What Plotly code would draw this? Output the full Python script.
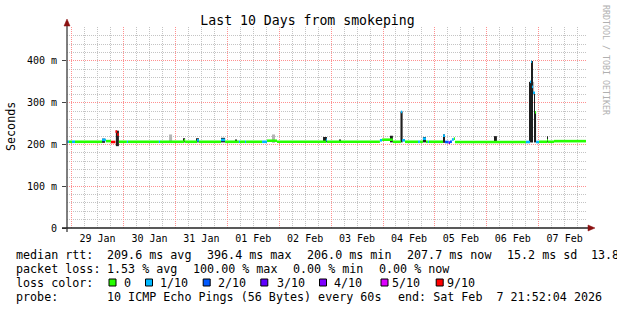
import plotly.graph_objects as go
from datetime import datetime, timedelta

W, H = 617, 310
L, R, T, B = 67, 31, 27, 82
PW, PH = W - L - R, H - T - B
MONO = "DejaVu Sans Mono"

start = datetime(2026, 1, 28, 21, 52, 4)
end = start + timedelta(days=10)
Y_MAX = 481.4

# ---------------- data ----------------
# median rtt segments: start hour (since graph start), median ms, loss (x/10)
seg_h = [0.0, 0.9, 2.3, 3.7, 16.2, 18.0, 20.3, 22.4, 23.2, 24.0, 27.7, 28.2, 42.5, 43.0,
         54.1, 54.6, 60.1, 61.0, 71.2, 73.1, 79.5, 80.0, 82.3, 82.8, 90.2, 92.5, 97.1,
         119.8, 120.2, 144.7, 145.7, 150.7, 154.4, 155.0, 156.3, 162.3, 163.2, 164.6,
         166.0, 166.9, 167.4, 173.9, 174.8, 176.5, 177.1, 178.0, 178.9, 179.4, 212.2,
         214.1, 214.6, 215.0, 215.5, 216.4, 216.9, 218.3, 222.0, 222.4, 225.2]
seg_ms = [206.5, 206.5, 206.5, 206.5, 211.0, 208.0, 206.0, 231.0, 224.0, 206.5, 206.5, 206.5, 206.5, 206.5,
          210.0, 206.5, 210.0, 206.5, 211.0, 206.5, 206.5, 206.5, 206.5, 206.5, 206.5, 209.0, 206.5,
          211.0, 206.5, 210.0, 211.5, 206.5, 278.0, 210.0, 206.5, 206.5, 206.5, 214.0,
          206.5, 206.5, 206.5, 221.0, 206.0, 204.5, 206.5, 212.0, 214.0, 206.0, 206.0,
          350.0, 398.0, 338.0, 324.0, 277.0, 206.0, 206.5, 210.0, 206.5, 208.0]
seg_loss = [1, 0, 1, 0, 1, 0, 9, 9, 9, 0, 1, 0, 1, 0,
            0, 0, 1, 0, 1, 0, 1, 0, 1, 0, 1, 0, 0,
            1, 0, 1, 0, 0, 1, 1, 0, 1, 0, 1,
            0, 1, 0, 1, 2, 3, 2, 1, 0, 0, 1,
            1, 1, 1, 1, 0, 1, 0, 0, 0, 0]
END_H = 240.0

# dense (dark) smoke: hour from, hour to, low ms, high ms
dark_h0 = [16.2, 22.6, 54.1, 60.1, 71.2, 77.7, 118.4, 125.8, 149.8, 154.2, 164.6, 173.9,
           197.9, 214.1, 214.6, 216.0, 216.4, 222.0]
dark_h1 = [17.6, 24.0, 54.6, 61.0, 73.1, 78.6, 120.2, 126.7, 150.7, 155.2, 166.0, 174.8,
           198.8, 214.6, 215.3, 216.4, 216.9, 222.4]
dark_lo = [204, 196, 205, 205, 205, 205, 205, 205, 205, 205, 205, 204,
           204, 205, 205, 275, 205, 205]
dark_hi = [214, 233, 215, 215, 216, 212, 218, 212, 221, 279, 218, 224,
           220, 350, 400, 325, 278, 220]
# sparse (light) smoke
light_h0 = [47.2, 94.8, 215.0]
light_h1 = [48.6, 96.2, 216.0]
light_lo = [204, 204, 318]
light_hi = [224, 224, 350]

loss_levels = [0, 1, 2, 3, 4, 5, 9]
loss_labels = ["0", "1/10", "2/10", "3/10", "4/10", "5/10", "9/10"]
loss_colors = ["#26ff00", "#00b8ff", "#0059ff", "#5e00ff", "#7e00ff", "#dd00ff", "#ff0000"]

y_tickvals = [0, 100, 200, 300, 400]
y_ticktext = ["0", "100 m", "200 m", "300 m", "400 m"]

title_text = "Last 10 Days from smokeping"
stats1 = ["median rtt:", "209.6 ms avg", "396.4 ms max", "206.0 ms min", "207.7 ms now", "15.2 ms sd", "13.8 am/s"]
stats2 = ["packet loss:", "1.53 % avg", "100.00 % max", "0.00 % min", "0.00 % now"]
probe = ["probe:", "10 ICMP Echo Pings (56 Bytes) every 60s", "end: Sat Feb\u00a0\u00a07 21:52:04 2026"]

# ---------------- layout helpers ----------------
def px(x):
    return (x - L) / PW

def py(y):
    return (H - B - y) / PH

def t(h):
    return start + timedelta(hours=h)

fig = go.Figure()

def smoke(h0s, h1s, los, his, color):
    fig.add_trace(go.Bar(
        x=[t((a + b) / 2) for a, b in zip(h0s, h1s)],
        y=[hi - lo for lo, hi in zip(los, his)],
        base=los,
        width=[(b - a) * 3600 * 1000 for a, b in zip(h0s, h1s)],
        marker=dict(color=color, line=dict(width=0)),
        hoverinfo="skip", showlegend=False))

smoke(light_h0, light_h1, light_lo, light_hi, "#b4b4b4")
smoke(dark_h0, dark_h1, dark_lo, dark_hi, "#1e1e1e")

for lvl, col in zip(loss_levels, loss_colors):
    xs, ys = [], []
    for i, (h, v, l) in enumerate(zip(seg_h, seg_ms, seg_loss)):
        if l != lvl:
            continue
        h1 = seg_h[i + 1] if i + 1 < len(seg_h) else END_H
        xs += [t(h), t(h1), None]
        ys += [v, v, None]
    if xs:
        fig.add_trace(go.Scatter(x=xs, y=ys, mode="lines",
                                 line=dict(color=col, width=2.6),
                                 hoverinfo="skip", showlegend=False))

GRID_GRAY = "#c4c4c4"
GRID_RED = "#ff9090"

fig.update_layout(
    width=W, height=H,
    margin=dict(l=L, r=R, t=T, b=B),
    paper_bgcolor="white", plot_bgcolor="white",
    barmode="overlay",
    showlegend=False,
    title=dict(text=title_text, x=307.5 / W, xanchor="center", xref="container",
               y=1 - 20 / H, yanchor="middle", yref="container",
               font=dict(family=MONO, size=13.2, color="black")),
    xaxis=dict(
        range=[start, end], type="date",
        tickmode="linear", tick0="2026-01-29 00:00:00", dtick=86400000,
        ticklabelmode="period", tickformat="%d %b",
        tickfont=dict(family=MONO, size=10, color="black"),
        ticks="", ticklabelstandoff=3,
        showgrid=True, gridcolor=GRID_RED, griddash="1px,1px", gridwidth=1,
        minor=dict(tick0="2026-01-29 00:00:00", dtick=21600000, showgrid=True,
                   gridcolor=GRID_GRAY, griddash="1px,1px", gridwidth=1),
        showline=False, zeroline=False, fixedrange=True),
    yaxis=dict(
        range=[0, Y_MAX],
        tickmode="array", tickvals=y_tickvals, ticktext=y_ticktext,
        tickfont=dict(family=MONO, size=10, color="black"),
        ticks="outside", ticklen=4, tickcolor="#444", ticklabelstandoff=3,
        showgrid=True, gridcolor=GRID_RED, griddash="1px,1px", gridwidth=1,
        minor=dict(tickmode="linear", tick0=0, dtick=20, showgrid=True,
                   gridcolor=GRID_GRAY, griddash="1px,1px", gridwidth=1),
        showline=False, zeroline=False, fixedrange=True),
)

shapes = []
# axis lines
shapes.append(dict(type="line", xref="paper", yref="paper", x0=px(67), x1=px(67), y0=py(232), y1=py(23),
                   line=dict(color="#555", width=1.5)))
shapes.append(dict(type="line", xref="paper", yref="paper", x0=px(62), x1=px(589), y0=py(228), y1=py(228),
                   line=dict(color="#222", width=1.5)))
# arrows
ARROW = "#8b1010"
shapes.append(dict(type="path", xref="paper", yref="paper",
                   path=f"M {px(67)},{py(19)} L {px(64)},{py(26)} L {px(70)},{py(26)} Z",
                   fillcolor=ARROW, line=dict(color=ARROW, width=0.5)))
shapes.append(dict(type="path", xref="paper", yref="paper",
                   path=f"M {px(595)},{py(228)} L {px(588)},{py(225)} L {px(588)},{py(231)} Z",
                   fillcolor=ARROW, line=dict(color=ARROW, width=0.5)))

annotations = []

def label(x, y, text, size=11.7, color="black", angle=0, xanchor="left"):
    annotations.append(dict(x=px(x), y=py(y), xref="paper", yref="paper", text=text,
                            showarrow=False, xanchor=xanchor, yanchor="middle",
                            textangle=angle, borderpad=0,
                            font=dict(family=MONO, size=size, color=color)))

# y-axis title
label(11, 127, "Seconds", size=11.7, angle=-90, xanchor="center")
# watermark
label(606, 60, "RRDTOOL / TOBI OETIKER", size=8.3, color="#b0b0b0", angle=90, xanchor="center")

# legend lines
for x, s in zip([16, 107.3, 207.3, 307.3, 407.3, 507.3, 591], stats1):
    label(x - 1, 255, s)
for x, s in zip([16, 107.3, 193.3, 293.3, 379], stats2):
    label(x - 1, 268.5, s)
label(15, 282.5, "loss color:")
sq_cx = [112.5, 149, 206.7, 264.3, 323, 384.5, 439.7]
lab_x = [124, 160.3, 218.3, 276.7, 334, 391.7, 446.7]
for cx, lx, col, txt in zip(sq_cx, lab_x, loss_colors, loss_labels):
    shapes.append(dict(type="rect", xref="paper", yref="paper",
                       x0=px(cx - 3.5), x1=px(cx + 3.5), y0=py(286), y1=py(279),
                       fillcolor=col, line=dict(color="black", width=1)))
    label(lx - 1, 282.5, txt)
for x, s in zip([16, 107.3, 398.3], probe):
    label(x - 1, 296.5, s)

fig.update_layout(shapes=shapes, annotations=annotations)
fig.write_html("out.html")
